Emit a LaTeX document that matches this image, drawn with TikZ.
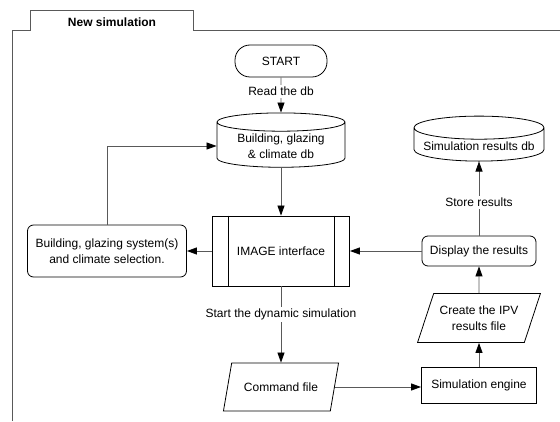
\documentclass[tikz,border=0pt]{standalone}
\usepackage{fontspec}
\setmainfont{Liberation Sans}
\usetikzlibrary{arrows.meta,shapes.geometric,positioning}
\tikzset{
    base-box/.style = {draw=black, fill=white, line width=0.8pt, align=center, inner sep=2pt, font=\fontsize{12}{16}\selectfont},
    start-box/.style = {base-box, rectangle, rounded corners=15pt, minimum width=92pt, minimum height=32pt},
    db-box/.style = {base-box, cylinder, shape border rotate=90, aspect=0.2, minimum height=44pt},
    round-box/.style = {base-box, rectangle, rounded corners=6pt},
    process-box/.style = {base-box, rectangle},
    io-box/.style = {base-box, trapezium, trapezium left angle=63, trapezium right angle=117, trapezium stretches=true},
    flow-line/.style = {draw=black!65, line width=0.8pt, -{Triangle[length=10pt,width=7pt,color=black]}},
    flow-label/.style = {fill=white, inner sep=2pt, font=\fontsize{12}{16}\selectfont},
    frame-line/.style = {draw=black!65, line width=0.8pt},
}

\begin{document}
\begin{tikzpicture}[x=1pt,y=1pt]
\useasboundingbox (0,0) rectangle (560,421);
% tab frame
\draw[frame-line] (12,0) -- (12,391) -- (30,391) -- (30,411) -- (193,411) -- (193,391) -- (560,391);
\node[font=\fontsize{12}{16}\selectfont\bfseries] (title) at (112,399) {New simulation};

% left column
\node[start-box] (start) at (281,360) {START};
\node[db-box, minimum width=128pt] (climate-db) at (281,275) {Building, glazing\\ \& climate db};
\node[process-box, minimum width=137pt, minimum height=70pt] (image) at (281,170) {IMAGE interface};
\draw[black, line width=0.8pt] ([xshift=16pt]image.north west) -- ([xshift=16pt]image.south west)
    ([xshift=-16pt]image.north east) -- ([xshift=-16pt]image.south east);
\node[round-box, minimum width=159pt, minimum height=52pt] (selection) at (107,170) {Building, glazing system(s)\\ and climate selection.};
\node[io-box, minimum width=116pt, minimum height=48pt] (command) at (281,34) {Command file};

% right column
\node[db-box, minimum width=130pt] (results-db) at (479,275) {Simulation results db};
\node[round-box, minimum width=114pt, minimum height=30pt] (display) at (479,170) {Display the results};
\node[io-box, minimum width=123pt, minimum height=49pt] (ipv) at (479,103) {Create the IPV\\ results file};
\node[process-box, minimum width=115pt, minimum height=36pt] (engine) at (479,36) {Simulation engine};

% connectors
\draw[flow-line] (start) -- node[flow-label, pos=0.4]{Read the db} (climate-db);
\draw[flow-line] (climate-db) -- (image);
\draw[flow-line] (selection.north) |- (climate-db.west);
\draw[flow-line] (image.west) -- (selection.east);
\draw[flow-line] (image) -- node[flow-label, pos=0.37]{Start the dynamic simulation} (command);
\draw[flow-line] (command.east) -- (command.east -| engine.west);
\draw[flow-line] (engine) -- (ipv);
\draw[flow-line] (ipv) -- (display);
\draw[flow-line] (display.west) -- (image.east);
\draw[flow-line] (display) -- node[flow-label, pos=0.45]{Store results} (results-db);
\end{tikzpicture}
\end{document}
